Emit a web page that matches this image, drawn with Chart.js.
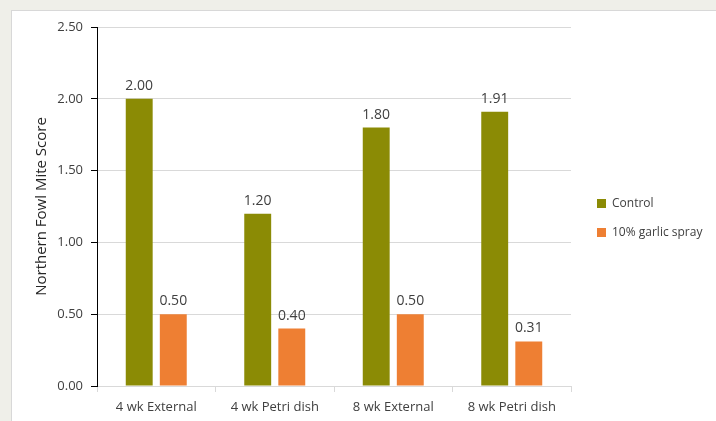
<!DOCTYPE html>
<html>
<head>
<meta charset="utf-8">
<script src="https://cdn.jsdelivr.net/npm/chart.js@4"></script>
<style>
  html, body { margin: 0; padding: 0; background: #efefe9; }
  #panel { position: absolute; left: 11px; top: 10px; width: 710px; height: 420px; background: #fff; border-left: 1px solid #d8d8d8; border-top: 1px solid #d8d8d8; }
  #wrap { position: absolute; left: 0; top: 0; width: 716px; height: 421px; }
</style>
</head>
<body>
<div id="panel"></div>
<div id="wrap"><canvas id="c" width="716" height="421"></canvas></div>
<script>
var categories = ["4 wk External", "4 wk Petri dish", "8 wk External", "8 wk Petri dish"];
var control = [2.00, 1.20, 1.80, 1.91];
var garlic = [0.50, 0.40, 0.50, 0.31];
var yTicks = [0, 0.5, 1, 1.5, 2, 2.5];

var FONT = "'Open Sans', 'Liberation Sans', sans-serif";

// value labels above each bar
var barLabels = {
    id: "barLabels",
    afterDatasetsDraw: function (chart) {
        var ctx = chart.ctx;
        ctx.save();
        ctx.font = "14px " + FONT;
        ctx.fillStyle = "#404040";
        ctx.textAlign = "center";
        ctx.textBaseline = "alphabetic";
        chart.data.datasets.forEach(function (ds, i) {
            chart.getDatasetMeta(i).data.forEach(function (bar, j) {
                ctx.fillText(ds.data[j].toFixed(2), bar.x, bar.y - 9);
            });
        });
        ctx.restore();
    }
};

// legend gets a fixed width so it is not squeezed by the layout,
// and sits a little above the middle like the original
var legendPlace = {
    id: "legendPlace",
    afterInit: function (chart) {
        var lg = chart.legend;
        var fit = lg.fit;
        lg.fit = function () {
            fit.call(this);
            this.width = 136;
        };
    },
    afterLayout: function (chart) {
        chart.legend.top -= 6;
        chart.legend.bottom -= 6;
    }
};

new Chart(document.getElementById("c"), {
    type: "bar",
    data: {
        labels: categories,
        datasets: [
            { label: "Control", data: control, backgroundColor: "#8b8b05" },
            { label: "10% garlic spray", data: garlic, backgroundColor: "#ee7f33" }
        ]
    },
    options: {
        responsive: false,
        animation: false,
        events: [],
        categoryPercentage: 0.575,
        barPercentage: 0.79,
        layout: { padding: { left: 30, top: 27, right: 0, bottom: 0 } },
        plugins: {
            legend: {
                position: "right",
                align: "center",
                labels: {
                    boxWidth: 9,
                    boxHeight: 9,
                    padding: 17,
                    color: "#404040",
                    font: { family: FONT, size: 12 }
                }
            },
            tooltip: { enabled: false }
        },
        scales: {
            x: {
                grid: { offset: true, drawOnChartArea: false, tickLength: 6, color: "#d9d9d9" },
                border: { color: "#d9d9d9" },
                ticks: { color: "#404040", padding: 7, font: { family: FONT, size: 13 } },
                afterFit: function (s) { s.height = 35; }
            },
            y: {
                min: 0,
                max: 2.5,
                afterBuildTicks: function (s) { s.ticks = yTicks.map(function (v) { return { value: v }; }); },
                ticks: {
                    padding: 8,
                    color: "#404040",
                    font: { family: FONT, size: 13 },
                    callback: function (v) { return v.toFixed(2); }
                },
                grid: { color: "#d9d9d9", tickColor: "#000", tickLength: 6 },
                border: { color: "#000" },
                title: {
                    display: true,
                    text: "Northern Fowl Mite Score",
                    color: "#262626",
                    padding: { top: 3, bottom: 0 },
                    font: { family: FONT, size: 15 }
                },
                afterFit: function (s) { s.width = 67; }
            },
            // empty axis that only keeps a gap between the plot and the legend
            gap: {
                position: "right",
                display: true,
                min: 0,
                max: 1,
                grid: { display: false },
                border: { display: false },
                ticks: { display: false },
                afterFit: function (s) { s.width = 9; }
            }
        }
    },
    plugins: [barLabels, legendPlace]
});
</script>
</body>
</html>
